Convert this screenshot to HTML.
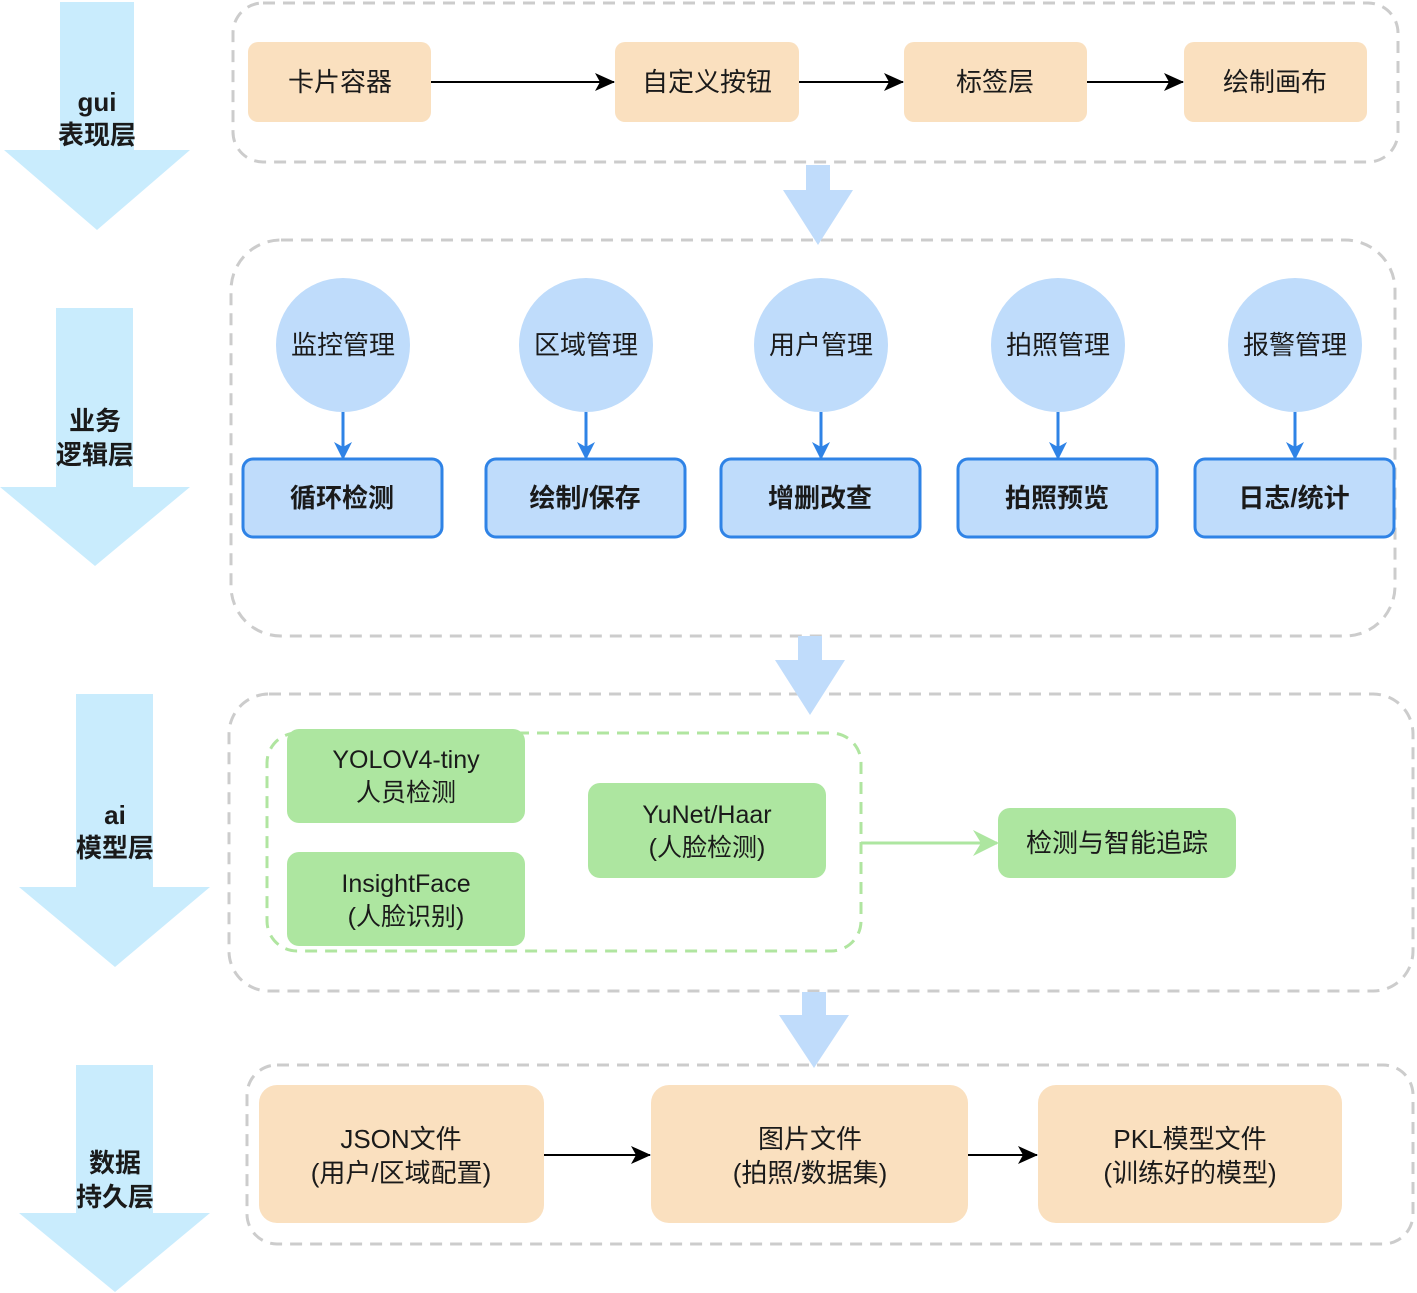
<!DOCTYPE html>
<html><head><meta charset="utf-8"><style>
html,body{margin:0;padding:0;background:#fff}
svg{display:block}
text{font-family:"Liberation Sans","Noto Sans CJK SC",sans-serif;fill:#1a1a1a;text-anchor:middle;dominant-baseline:central}
.b{font-weight:bold}
</style></head><body>
<svg width="1417" height="1293" viewBox="0 0 1417 1293" xmlns="http://www.w3.org/2000/svg">
<defs>
<marker id="ak" markerWidth="20" markerHeight="20" refX="19" refY="10" orient="auto" markerUnits="userSpaceOnUse" viewBox="0 0 20 20"><path d="M0,1 L20,10 L0,19 L5,10 z" fill="#000"/></marker>
<marker id="ab" markerWidth="18" markerHeight="18" refX="16" refY="9" orient="auto" markerUnits="userSpaceOnUse" viewBox="0 0 18 18"><path d="M0,0 L18,9 L0,18 L5,9 z" fill="#2f83e6"/></marker>
<marker id="ag" markerWidth="26" markerHeight="26" refX="24" refY="13" orient="auto" markerUnits="userSpaceOnUse" viewBox="0 0 26 26"><path d="M0,0 L26,13 L0,26 L8,13 z" fill="#ade6a0"/></marker>
</defs>
<g fill="#c9ecfd">
<polygon points="60,2 134,2 134,150 190,150 97,230 4,150 60,150"/>
<polygon points="56,308 133,308 133,487 190,487 95,566 0,487 56,487"/>
<polygon points="76,694 153,694 153,887 210,887 115,967 19,887 76,887"/>
<polygon points="76,1065 153,1065 153,1213 210,1213 115,1292 19,1213 76,1213"/>
</g>
<g font-size="26" class="b">
<text x="97" y="102" class="b">gui</text><text x="97" y="135" class="b">表现层</text>
<text x="95" y="421" class="b">业务</text><text x="95" y="455" class="b">逻辑层</text>
<text x="115" y="815" class="b">ai</text><text x="115" y="848" class="b">模型层</text>
<text x="115" y="1163" class="b">数据</text><text x="115" y="1197" class="b">持久层</text>
</g>
<g fill="none" stroke="#cccccc" stroke-width="3" stroke-dasharray="12 8">
<rect x="233" y="3" width="1165" height="159" rx="30"/>
<rect x="231" y="240" width="1164" height="396" rx="50"/>
<rect x="229" y="694" width="1184" height="297" rx="40"/>
<rect x="247" y="1065" width="1166" height="179" rx="30"/>
</g>
<g fill="#c0dcfb">
<polygon points="806,165 830,165 830,190 853,190 818,245 783,190 806,190"/>
<polygon points="798,636 822,636 822,660 845,660 810,715 775,660 798,660"/>
<polygon points="802,992 826,992 826,1015 849,1015 814,1068 779,1015 802,1015"/>
</g>
<g fill="#fae0bf">
<rect x="248" y="42" width="183" height="80" rx="10"/>
<rect x="615" y="42" width="184" height="80" rx="10"/>
<rect x="904" y="42" width="183" height="80" rx="10"/>
<rect x="1184" y="42" width="183" height="80" rx="10"/>
</g>
<g stroke="#000" stroke-width="2" marker-end="url(#ak)">
<line x1="431" y1="82" x2="614" y2="82"/>
<line x1="799" y1="82" x2="903" y2="82"/>
<line x1="1087" y1="82" x2="1183" y2="82"/>
</g>
<g font-size="26">
<text x="340" y="82">卡片容器</text><text x="707" y="82">自定义按钮</text>
<text x="995" y="82">标签层</text><text x="1275" y="82">绘制画布</text>
</g>
<g fill="#bfdcfb">
<ellipse cx="343" cy="345" rx="67" ry="67"/><ellipse cx="586" cy="345" rx="67" ry="67"/>
<ellipse cx="821" cy="345" rx="67" ry="67"/><ellipse cx="1058" cy="345" rx="67" ry="67"/>
<ellipse cx="1295" cy="345" rx="67" ry="67"/>
</g>
<g fill="#bfdcfb" stroke="#2f83e6" stroke-width="3">
<rect x="243" y="459" width="199" height="78" rx="10"/>
<rect x="486" y="459" width="199" height="78" rx="10"/>
<rect x="721" y="459" width="199" height="78" rx="10"/>
<rect x="958" y="459" width="199" height="78" rx="10"/>
<rect x="1195" y="459" width="199" height="78" rx="10"/>
</g>
<g stroke="#2f83e6" stroke-width="3" marker-end="url(#ab)">
<line x1="343" y1="412" x2="343" y2="458"/><line x1="586" y1="412" x2="586" y2="458"/>
<line x1="821" y1="412" x2="821" y2="458"/><line x1="1058" y1="412" x2="1058" y2="458"/>
<line x1="1295" y1="412" x2="1295" y2="458"/>
</g>
<g font-size="26">
<text x="343" y="345">监控管理</text><text x="586" y="345">区域管理</text><text x="821" y="345">用户管理</text>
<text x="1058" y="345">拍照管理</text><text x="1295" y="345">报警管理</text>
<text x="342" y="498" class="b">循环检测</text><text x="585" y="498" class="b">绘制/保存</text>
<text x="820" y="498" class="b">增删改查</text><text x="1057" y="498" class="b">拍照预览</text>
<text x="1294" y="498" class="b">日志/统计</text>
</g>
<rect x="267" y="733" width="594" height="218" rx="30" fill="none" stroke="#b0e5a0" stroke-width="3" stroke-dasharray="12 8"/>
<g fill="#ade6a0">
<rect x="287" y="729" width="238" height="94" rx="12"/>
<rect x="287" y="852" width="238" height="94" rx="12"/>
<rect x="588" y="783" width="238" height="95" rx="12"/>
<rect x="998" y="808" width="238" height="70" rx="12"/>
</g>
<line x1="861" y1="843" x2="997" y2="843" stroke="#ade6a0" stroke-width="3" marker-end="url(#ag)"/>
<g font-size="25">
<text x="406" y="760">YOLOV4-tiny</text><text x="406" y="793">人员检测</text>
<text x="406" y="884">InsightFace</text><text x="406" y="917">(人脸识别)</text>
<text x="707" y="815">YuNet/Haar</text><text x="707" y="848">(人脸检测)</text>
<text x="1117" y="843" font-size="26">检测与智能追踪</text>
</g>
<g fill="#fae0bf">
<rect x="259" y="1085" width="285" height="138" rx="18"/>
<rect x="651" y="1085" width="317" height="138" rx="18"/>
<rect x="1038" y="1085" width="304" height="138" rx="18"/>
</g>
<g stroke="#000" stroke-width="2" marker-end="url(#ak)">
<line x1="544" y1="1155" x2="650" y2="1155"/>
<line x1="968" y1="1155" x2="1037" y2="1155"/>
</g>
<g font-size="26">
<text x="401" y="1139">JSON文件</text><text x="401" y="1173">(用户/区域配置)</text>
<text x="810" y="1139">图片文件</text><text x="810" y="1173">(拍照/数据集)</text>
<text x="1190" y="1139">PKL模型文件</text><text x="1190" y="1173">(训练好的模型)</text>
</g>
</svg>
</body></html>
